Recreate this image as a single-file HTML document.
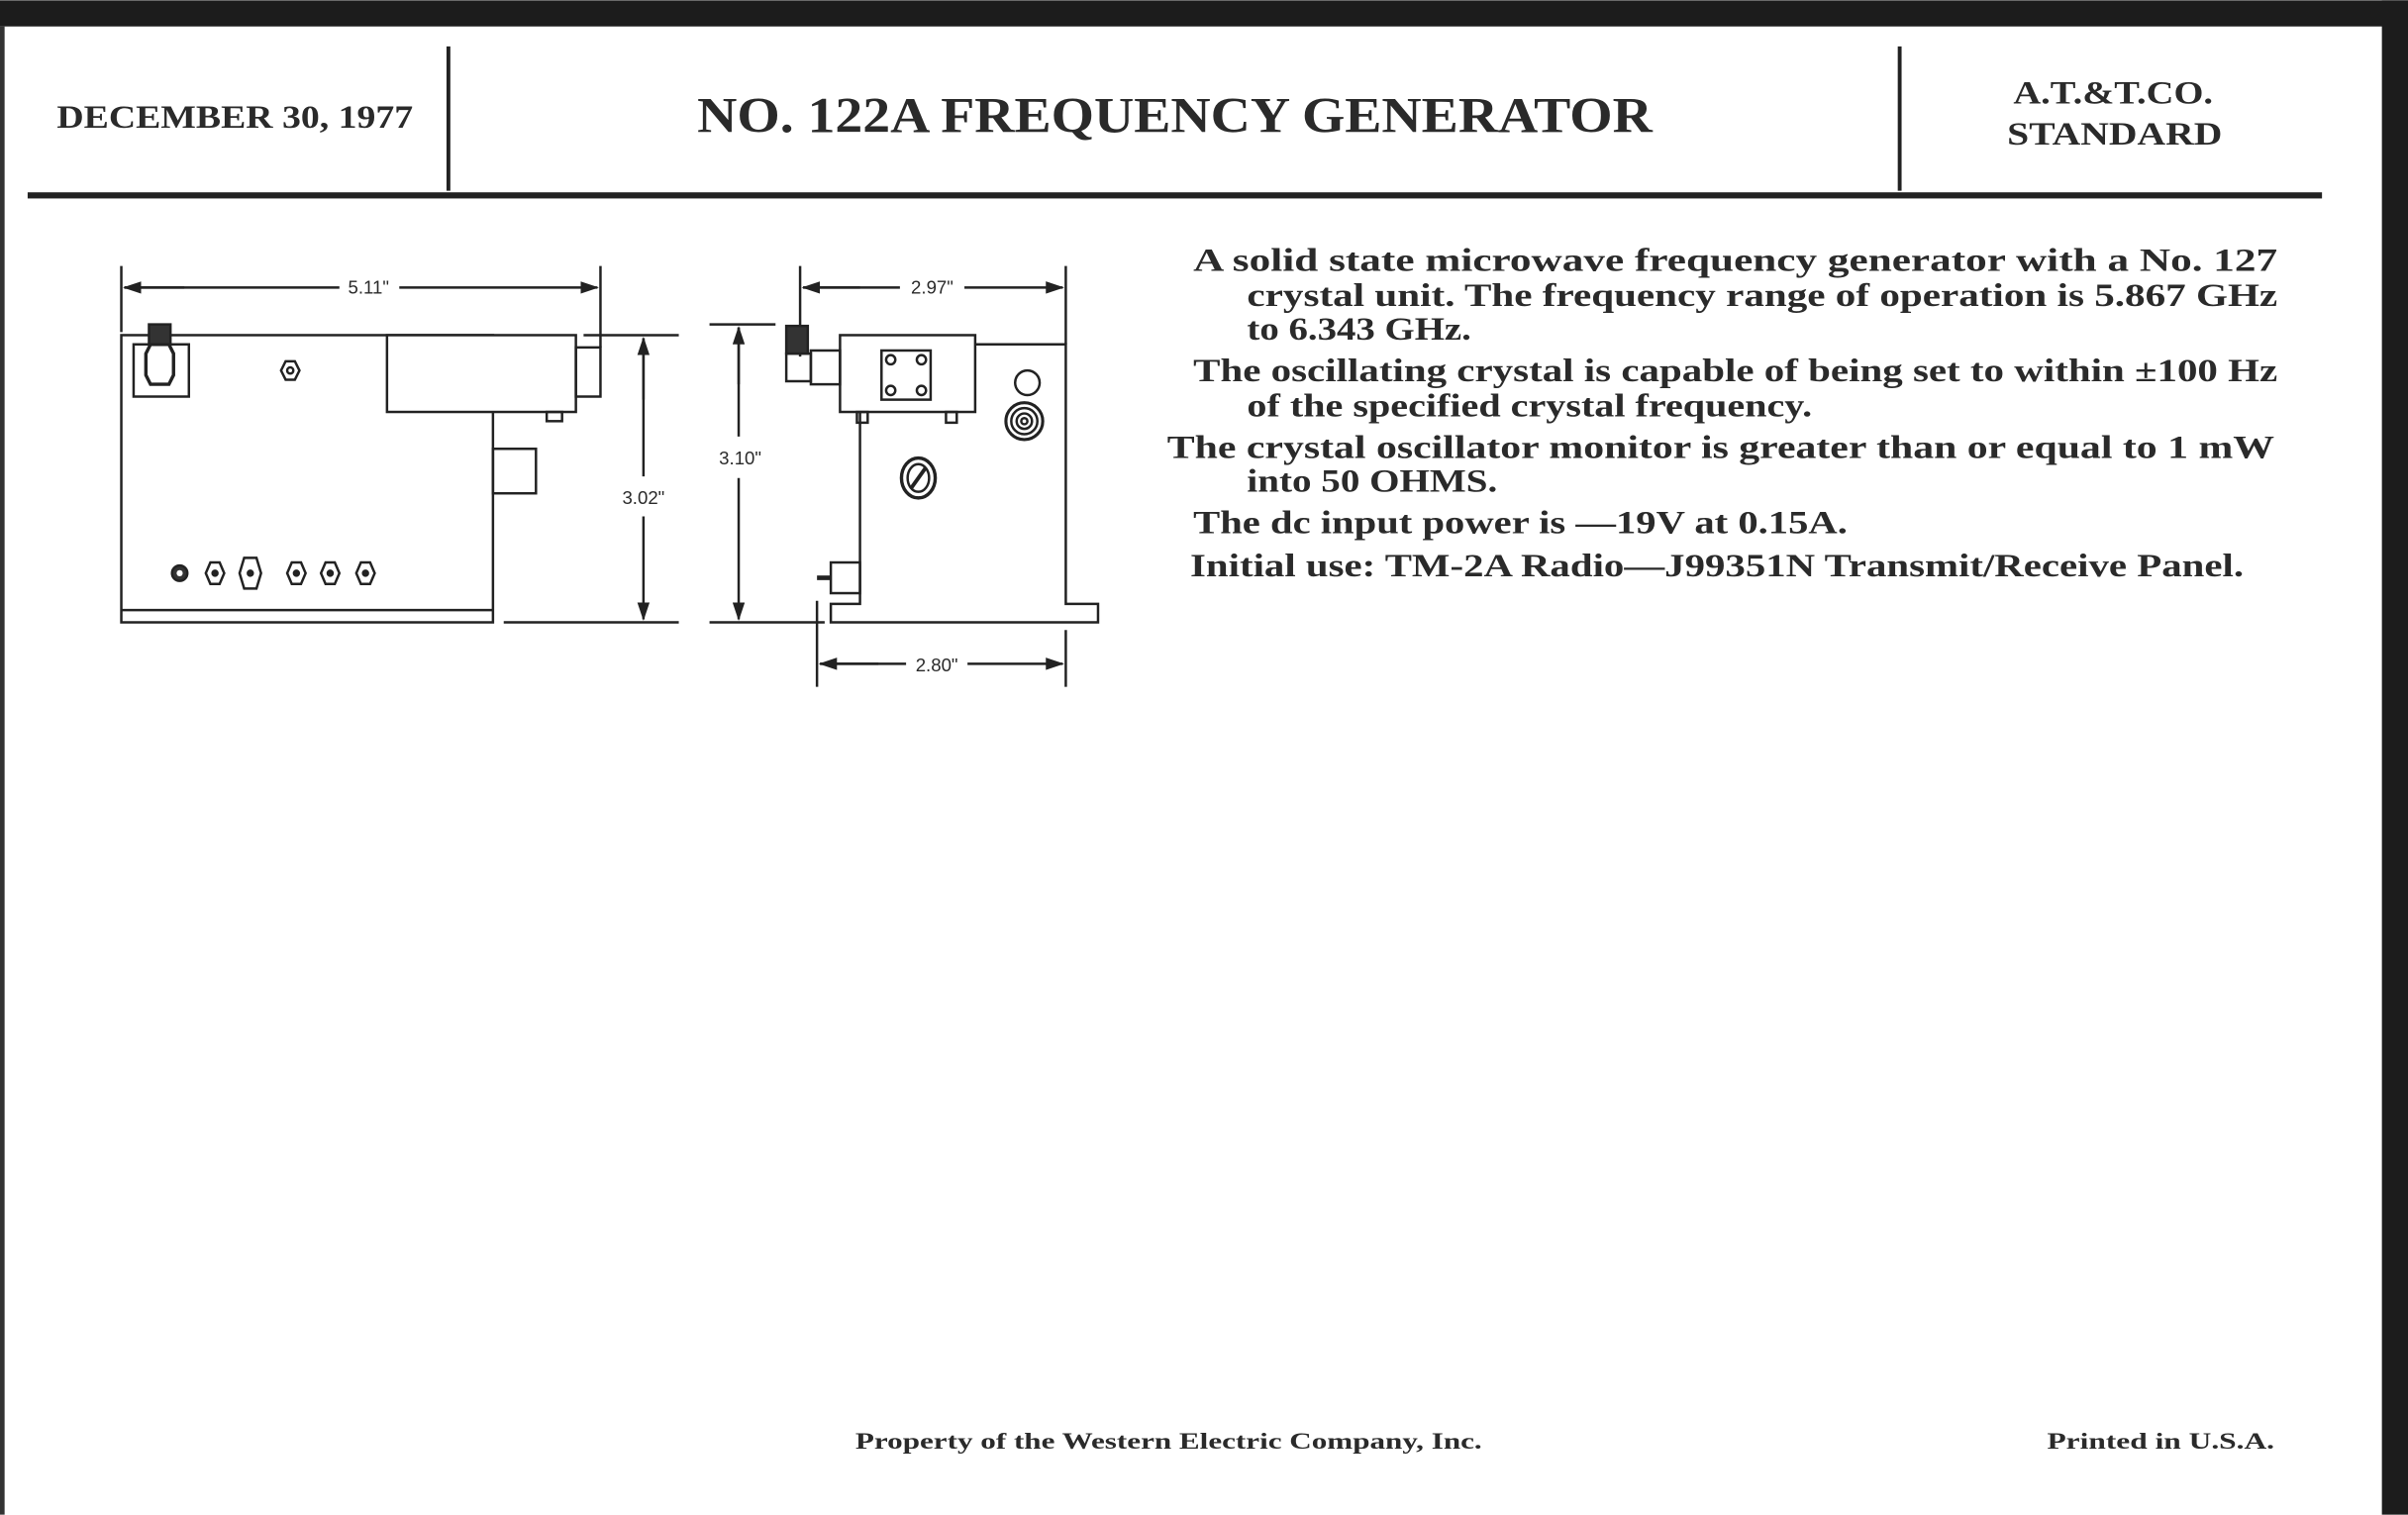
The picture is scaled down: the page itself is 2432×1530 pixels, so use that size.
<!DOCTYPE html>
<html><head><meta charset="utf-8"><style>
html,body{margin:0;padding:0;background:#fff;}
svg{display:block;}
text{font-family:"Liberation Serif",serif;font-weight:bold;fill:#2a2a2a;}
.s{font-family:"Liberation Sans",sans-serif;font-weight:normal;font-size:12px;}
</style></head><body>
<svg width="2432" height="1530" viewBox="0 0 1568 986" xmlns="http://www.w3.org/2000/svg">
<rect width="1568" height="986" fill="#fff"/>
<rect x="0" y="0" width="1568" height="17" fill="#1c1c1c"/>
<rect x="1551" y="0" width="17" height="986" fill="#1c1c1c"/>
<rect x="0" y="17" width="3" height="969" fill="#333"/>
<!-- header -->
<text x="37" y="83" font-size="21" textLength="232" lengthAdjust="spacingAndGlyphs">DECEMBER 30, 1977</text>
<line x1="292" y1="30" x2="292" y2="124" stroke="#222" stroke-width="2.5"/>
<line x1="1237" y1="30" x2="1237" y2="124" stroke="#222" stroke-width="2.5"/>
<text x="454" y="86" font-size="33" textLength="622" lengthAdjust="spacingAndGlyphs">NO. 122A FREQUENCY GENERATOR</text>
<text x="1311" y="67" font-size="21" textLength="130" lengthAdjust="spacingAndGlyphs">A.T.&amp;T.CO.</text>
<text x="1307" y="94" font-size="21" textLength="140" lengthAdjust="spacingAndGlyphs">STANDARD</text>
<rect x="18" y="125" width="1494" height="4" fill="#222"/>
<!-- description -->
<g font-size="21">
<text x="777" y="176" textLength="706" lengthAdjust="spacingAndGlyphs">A solid state microwave frequency generator with a No. 127</text>
<text x="812" y="199" textLength="671" lengthAdjust="spacingAndGlyphs">crystal unit. The frequency range of operation is 5.867 GHz</text>
<text x="812" y="221" textLength="146" lengthAdjust="spacingAndGlyphs">to 6.343 GHz.</text>
<text x="777" y="248" textLength="706" lengthAdjust="spacingAndGlyphs">The oscillating crystal is capable of being set to within ±100 Hz</text>
<text x="812" y="271" textLength="368" lengthAdjust="spacingAndGlyphs">of the specified crystal frequency.</text>
<text x="760" y="298" textLength="721" lengthAdjust="spacingAndGlyphs">The crystal oscillator monitor is greater than or equal to 1 mW</text>
<text x="812" y="320" textLength="163" lengthAdjust="spacingAndGlyphs">into 50 OHMS.</text>
<text x="777" y="347" textLength="426" lengthAdjust="spacingAndGlyphs">The dc input power is —19V at 0.15A.</text>
<text x="775" y="375" textLength="686" lengthAdjust="spacingAndGlyphs">Initial use:  TM-2A Radio—J99351N Transmit/Receive Panel.</text>
</g>
<!-- footer -->
<text x="557" y="943" font-size="15" textLength="408" lengthAdjust="spacingAndGlyphs">Property of the Western Electric Company, Inc.</text>
<text x="1333" y="943" font-size="15" textLength="148" lengthAdjust="spacingAndGlyphs">Printed in U.S.A.</text>

<defs>
<marker id="a" markerWidth="12" markerHeight="8" refX="11" refY="4" orient="auto" markerUnits="userSpaceOnUse"><path d="M0,0 L12,4 L0,8 Z" fill="#222"/></marker>
</defs>
<g stroke="#222" stroke-width="1.6" fill="none">
<!-- LEFT VIEW -->
<line x1="79" y1="173" x2="79" y2="216"/>
<line x1="391" y1="173" x2="391" y2="226"/>
<line x1="120" y1="187" x2="81" y2="187" marker-end="url(#a)"/>
<line x1="81" y1="187" x2="221" y2="187"/>
<line x1="260" y1="187" x2="389" y2="187" marker-end="url(#a)"/>
<rect x="79" y="218" width="242" height="187"/>
<line x1="79" y1="397" x2="321" y2="397"/>
<rect x="252" y="218" width="123" height="50" fill="#fff"/>
<rect x="375" y="226" width="16" height="32"/>
<rect x="356" y="268" width="10" height="6"/>
<rect x="321" y="292" width="28" height="29"/>
<rect x="87" y="224" width="36" height="34" fill="#fff"/>
<path d="M95,230 L98,224 L110,224 L113,230 L113,244 L110,250 L98,250 L95,244 Z" fill="#fff" stroke-width="2.2"/>
<rect x="97" y="211" width="14" height="13" fill="#333"/>
<path d="M183,241 L186,235 L192,235 L195,241 L192,247 L186,247 Z"/>
<circle cx="189" cy="241" r="2"/>
<circle cx="117" cy="373" r="5" fill="#333"/><circle cx="117" cy="373" r="2" fill="#fff" stroke="none"/>
<path d="M134,373 L137,366 L143,366 L146,373 L143,380 L137,380 Z"/><circle cx="140" cy="373" r="1.6" fill="#222"/>
<path d="M156,373 L159,363 L167,363 L170,373 L167,383 L159,383 Z"/><circle cx="163" cy="373" r="1.6" fill="#222"/>
<path d="M187,373 L190,366 L196,366 L199,373 L196,380 L190,380 Z"/><circle cx="193" cy="373" r="1.6" fill="#222"/>
<path d="M209,373 L212,366 L218,366 L221,373 L218,380 L212,380 Z"/><circle cx="215" cy="373" r="1.6" fill="#222"/>
<path d="M232,373 L235,366 L241,366 L244,373 L241,380 L235,380 Z"/><circle cx="238" cy="373" r="1.6" fill="#222"/>
<!-- 3.02 -->
<line x1="380" y1="218" x2="442" y2="218"/>
<line x1="328" y1="405" x2="442" y2="405"/>
<line x1="419" y1="260" x2="419" y2="220" marker-end="url(#a)"/>
<line x1="419" y1="220" x2="419" y2="310"/>
<line x1="419" y1="336" x2="419" y2="403" marker-end="url(#a)"/>
<!-- RIGHT VIEW -->
<line x1="462" y1="211" x2="505" y2="211"/>
<line x1="462" y1="405" x2="537" y2="405"/>
<line x1="481" y1="250" x2="481" y2="213" marker-end="url(#a)"/>
<line x1="481" y1="213" x2="481" y2="284"/>
<line x1="481" y1="311" x2="481" y2="403" marker-end="url(#a)"/>
<line x1="521" y1="173" x2="521" y2="232"/>
<line x1="694" y1="173" x2="694" y2="224"/>
<line x1="560" y1="187" x2="523" y2="187" marker-end="url(#a)"/>
<line x1="523" y1="187" x2="586" y2="187"/>
<line x1="628" y1="187" x2="692" y2="187" marker-end="url(#a)"/>
<polyline points="635,224 694,224 694,393 715,393 715,405 541,405 541,393 560,393 560,268"/>
<rect x="547" y="218" width="88" height="50" fill="#fff"/>
<rect x="574" y="228" width="32" height="32"/>
<circle cx="580" cy="234" r="3"/><circle cx="600" cy="234" r="3"/>
<circle cx="580" cy="254" r="3"/><circle cx="600" cy="254" r="3"/>
<rect x="558" y="268" width="7" height="7"/><rect x="616" y="268" width="7" height="7"/>
<rect x="528" y="228" width="19" height="22"/>
<rect x="512" y="230" width="16" height="18"/>
<rect x="512" y="212" width="14" height="18" fill="#333"/>
<circle cx="669" cy="249" r="8" fill="#fff"/>
<circle cx="667" cy="274" r="12" stroke-width="2" fill="#fff"/><circle cx="667" cy="274" r="8.5"/><circle cx="667" cy="274" r="5"/><circle cx="667" cy="274" r="2"/>
<ellipse cx="598" cy="311" rx="11" ry="13" stroke-width="2.2"/><ellipse cx="598" cy="311" rx="7" ry="9"/>
<line x1="593" y1="318" x2="603" y2="304" stroke-width="2.5"/>
<rect x="541" y="366" width="19" height="20"/>
<line x1="532" y1="376" x2="541" y2="376" stroke-width="3"/>
<!-- 2.80 -->
<line x1="532" y1="391" x2="532" y2="447"/>
<line x1="694" y1="410" x2="694" y2="447"/>
<line x1="572" y1="432" x2="534" y2="432" marker-end="url(#a)"/>
<line x1="534" y1="432" x2="590" y2="432"/>
<line x1="630" y1="432" x2="692" y2="432" marker-end="url(#a)"/>
</g>
<text class="s" x="240" y="191" text-anchor="middle">5.11"</text>
<text class="s" x="607" y="191" text-anchor="middle">2.97"</text>
<text class="s" x="419" y="328" text-anchor="middle">3.02"</text>
<text class="s" x="482" y="302" text-anchor="middle">3.10"</text>
<text class="s" x="610" y="437" text-anchor="middle">2.80"</text>
</svg>
</body></html>
